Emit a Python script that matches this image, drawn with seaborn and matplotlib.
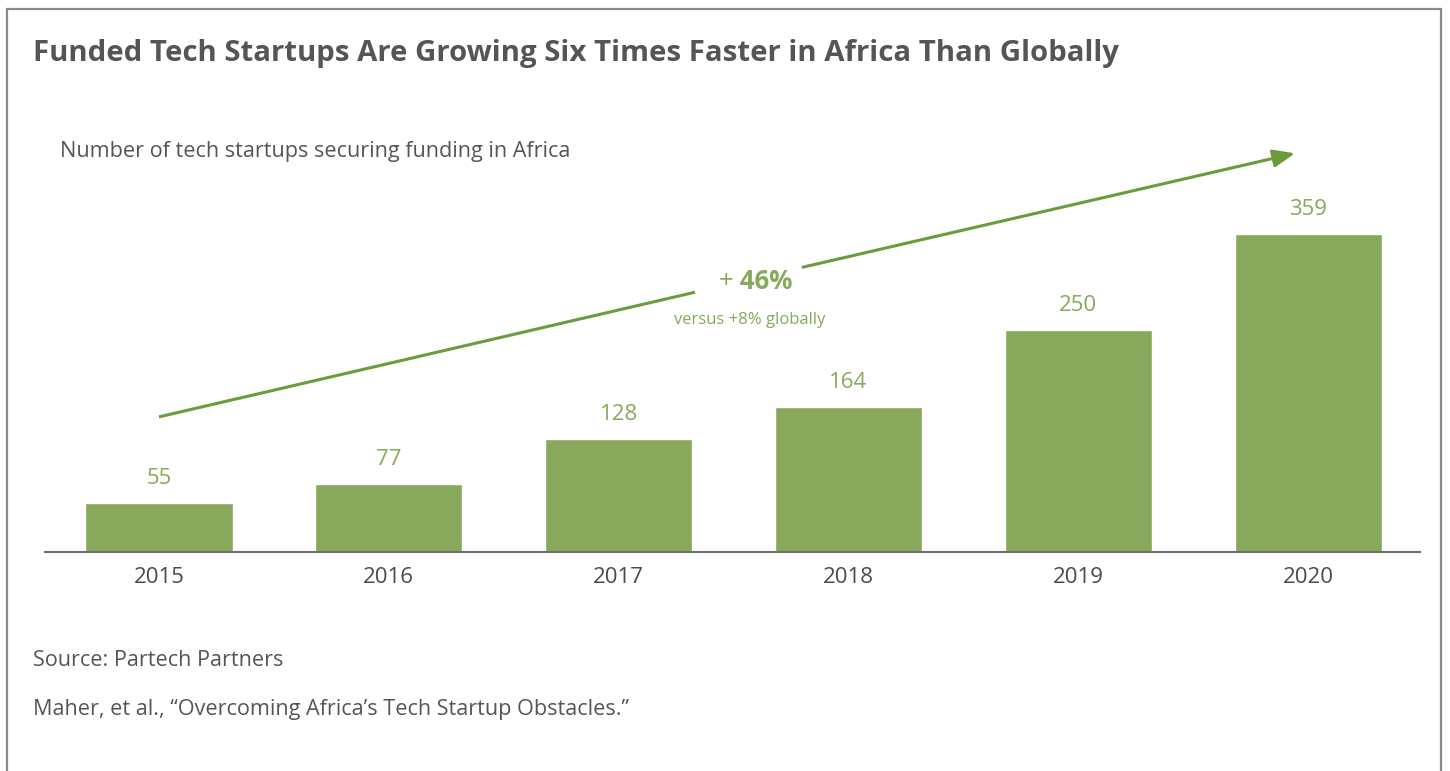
import matplotlib
matplotlib.use("Agg")
import matplotlib.pyplot as plt
import seaborn as sns
import pandas as pd
from matplotlib.patches import Rectangle

years = ["2015", "2016", "2017", "2018", "2019", "2020"]
startups = [55, 77, 128, 164, 250, 359]

title = "Funded Tech Startups Are Growing Six Times Faster in Africa Than Globally"
subtitle = "Number of tech startups securing funding in Africa"
growth_label = "46%"
growth_note = "versus +8% globally"
source_lines = ["Source: Partech Partners",
                "Maher, et al., \u201cOvercoming Africa\u2019s Tech Startup Obstacles.\u201d"]

sns.set_theme(style="white")
plt.rcParams['font.family'] = ['Open Sans', 'DejaVu Sans']

BAR = "#88a95c"
LABEL = "#86a95a"
ARROW = "#6a9c3c"
GRAY = "#555555"

W, H = 1450, 771
fig = plt.figure(figsize=(W / 100, H / 100), dpi=100)
fig.patch.set_facecolor("white")

# border
fig.patches.append(Rectangle((7 / W, -0.05), (1441 - 7) / W, 1 - 9 / H + 0.05,
                             transform=fig.transFigure, fill=False,
                             edgecolor="#8a8a8a", linewidth=1.6))

ax = fig.add_axes([45 / W, (H - 552) / H, (1420 - 45) / W, (552 - 130) / H])
df = pd.DataFrame({"year": years, "n": startups})
sns.barplot(data=df, x="year", y="n", color=BAR, width=0.64, saturation=1,
            ax=ax)
ax.set_xlim(-0.496, 5.487)
ax.set_ylim(0, 476)
for c in ax.containers:
    ax.bar_label(c, labels=[str(v) for v in startups], padding=10,
                 fontsize=16, color=LABEL)
for s in ["top", "left", "right"]:
    ax.spines[s].set_visible(False)
ax.spines["bottom"].set_color("#6e6e6e")
ax.spines["bottom"].set_linewidth(1.5)
ax.set_yticks([])
ax.set_xlabel("")
ax.set_ylabel("")
ax.tick_params(axis="x", length=0, pad=11, labelsize=16, labelcolor="#4a4a4a")

# arrow (two segments with gap for label)
ax.plot([0.0, 2.332], [152.4, 293], color=ARROW, lw=2.2, solid_capstyle="butt",
        clip_on=False)
ax.annotate("", xy=(4.943, 449.7), xytext=(2.802, 321.3),
            arrowprops=dict(arrowstyle="-|>,head_length=1.1,head_width=0.45",
                            color=ARROW, lw=2.2, shrinkA=0, shrinkB=0),
            annotation_clip=False)

fig.text(733 / W, 1 - 281 / H, "+", fontsize=18.5, color=LABEL, ha="right", va="center")
fig.text(733 / W, 1 - 281 / H, " " + growth_label, fontsize=18.5, fontweight="bold",
         color=LABEL, ha="left", va="center")
fig.text(750 / W, 1 - 320 / H, growth_note, fontsize=12, color=LABEL,
         ha="center", va="center")

fig.text(33 / W, 1 - 53 / H, title, fontsize=21.2, fontweight="bold", color=GRAY,
         ha="left", va="center")
fig.text(60 / W, 1 - 152 / H, subtitle, fontsize=15.6, color=GRAY,
         ha="left", va="center")
fig.text(33 / W, 1 - 661 / H, source_lines[0], fontsize=15.6, color=GRAY,
         ha="left", va="center")
fig.text(33 / W, 1 - 710 / H, source_lines[1], fontsize=15.6, color=GRAY,
         ha="left", va="center")

fig.savefig("out.png", dpi=100, facecolor="white")
